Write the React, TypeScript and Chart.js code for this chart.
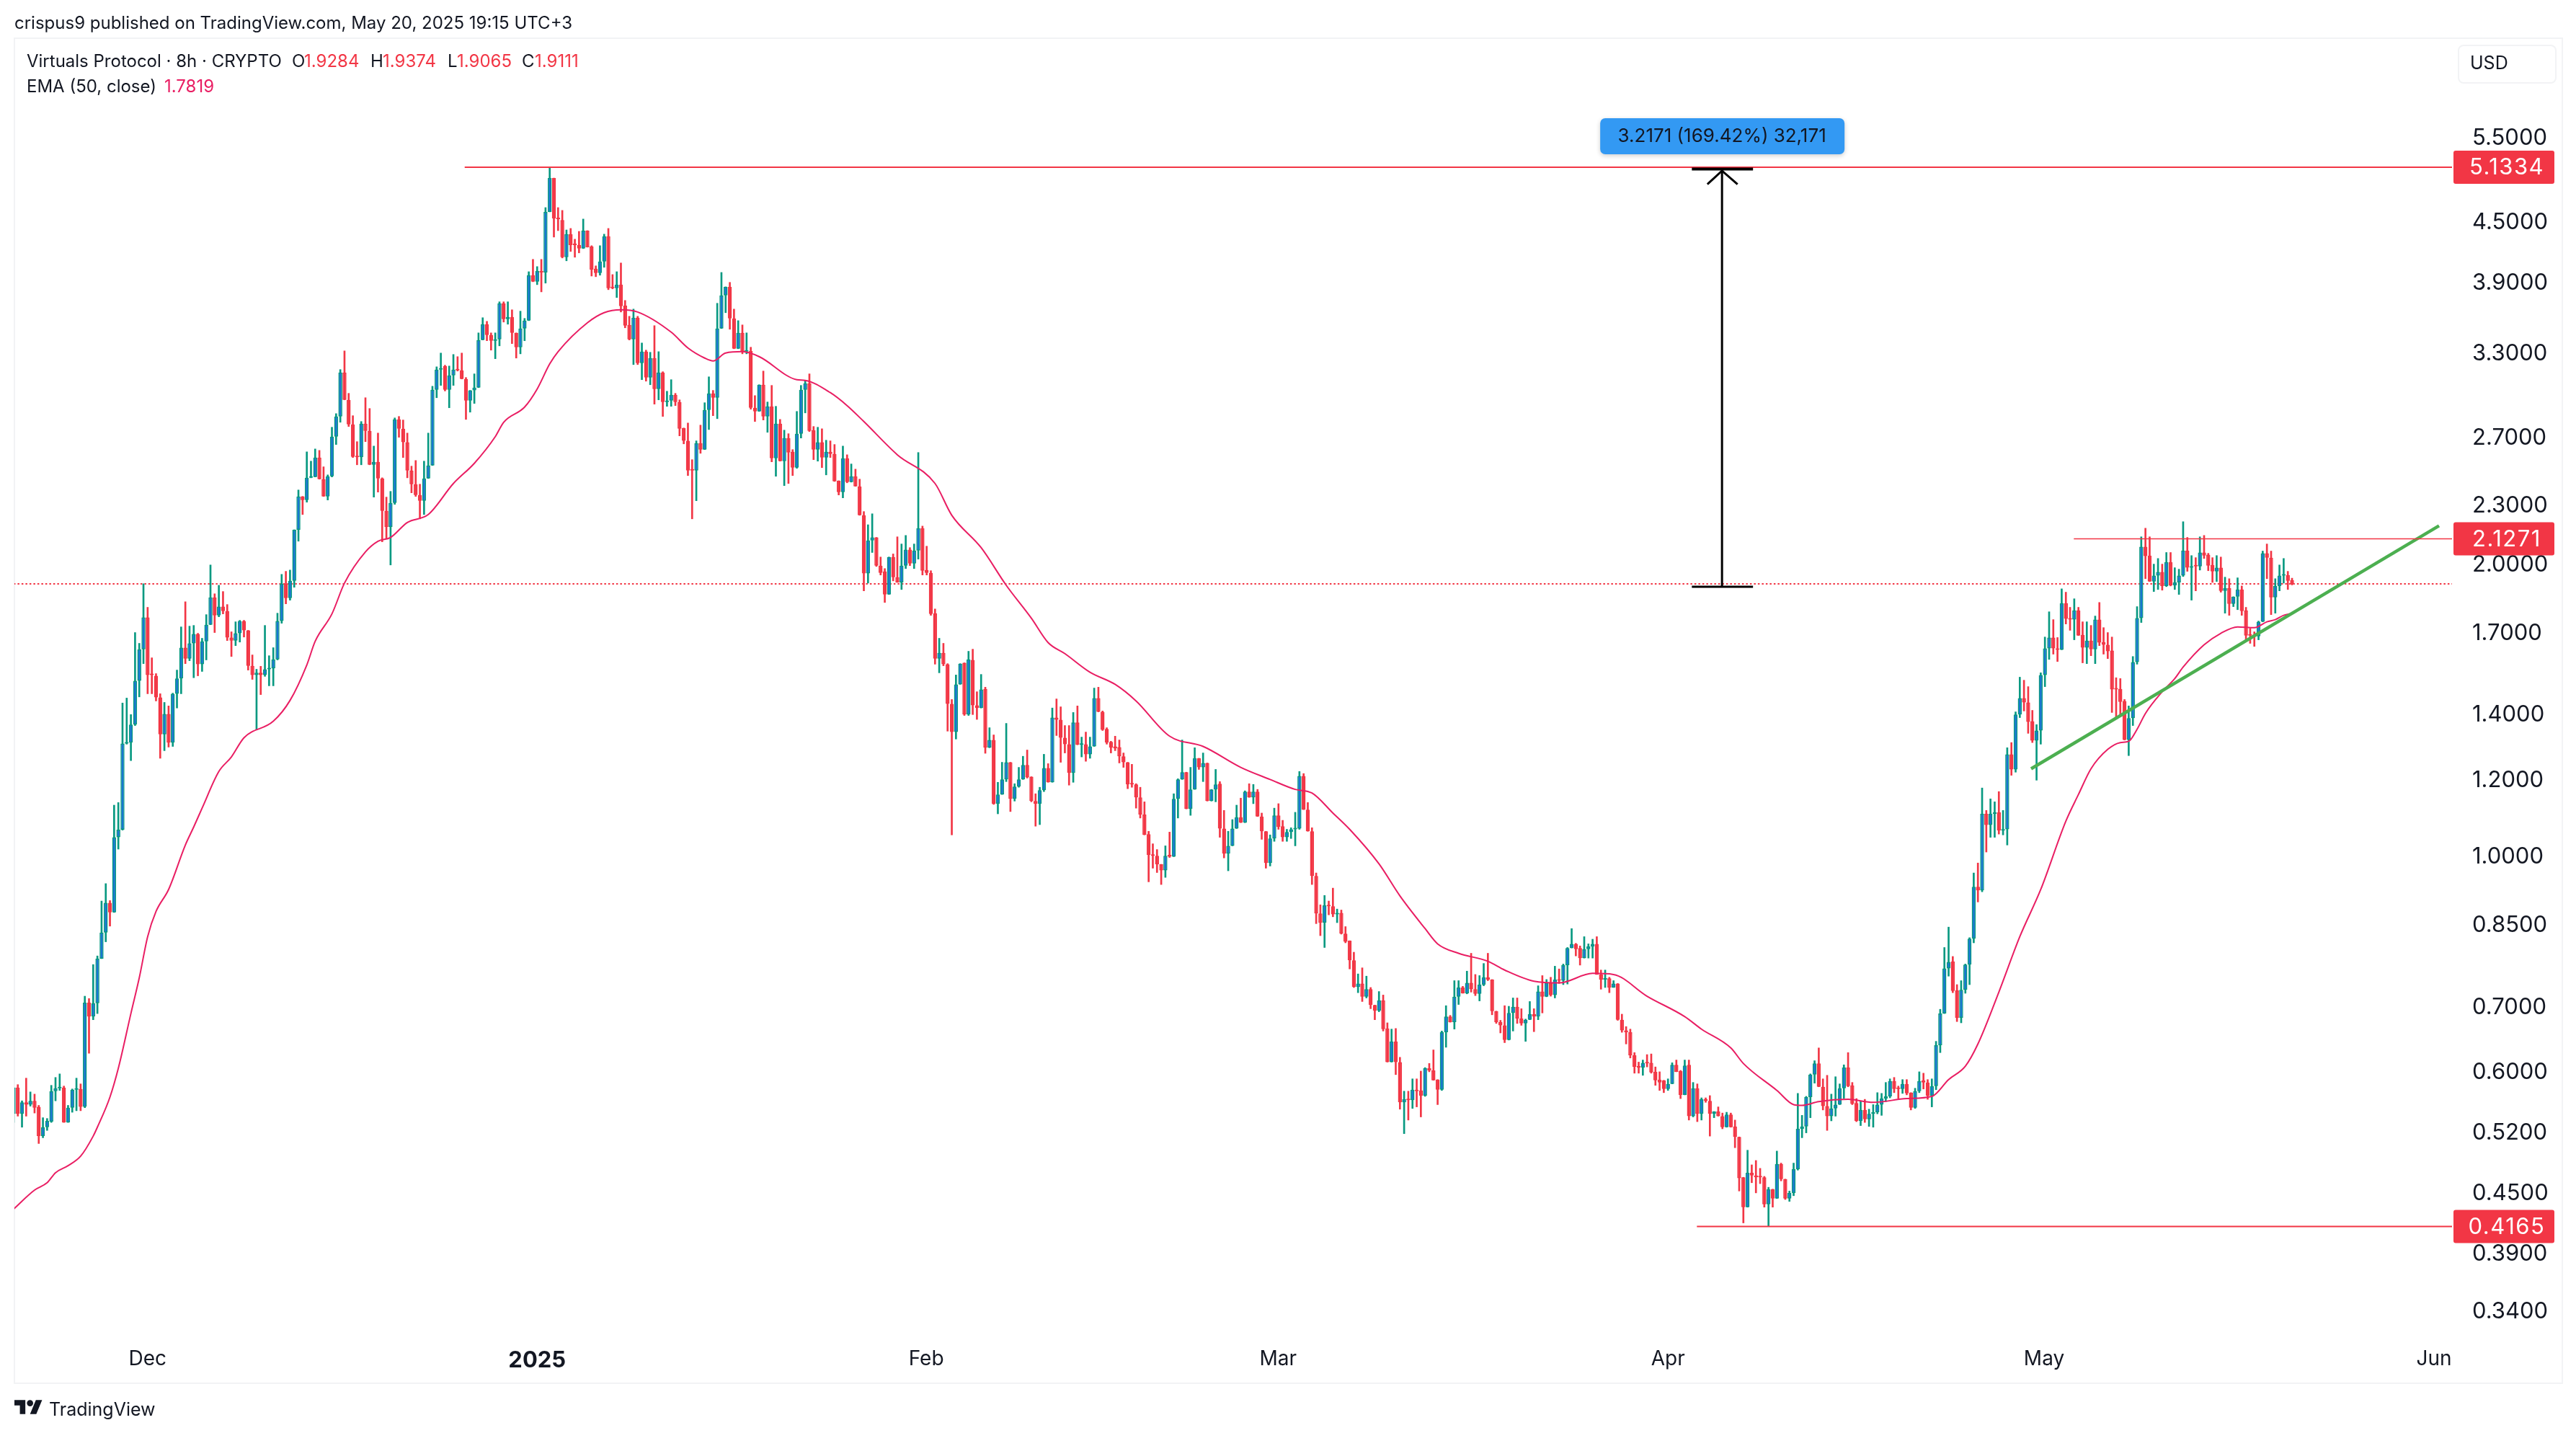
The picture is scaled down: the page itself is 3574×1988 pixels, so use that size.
import React, { useEffect, useRef } from 'react';
import { Chart, registerables } from 'chart.js';

Chart.register(...registerables);

// 8h candles, oldest first
const opens = [
  0.544, 0.579, 0.544, 0.559, 0.556, 0.561, 0.553, 0.516, 0.527, 0.534,
  0.574, 0.578, 0.579, 0.533, 0.552, 0.576, 0.577, 0.553, 0.708, 0.685,
  0.707, 0.786, 0.836, 0.897, 0.877, 1.048, 1.067, 1.309, 1.312, 1.369,
  1.519, 1.637, 1.765, 1.542, 1.537, 1.46, 1.338, 1.404, 1.312, 1.473,
  1.527, 1.643, 1.601, 1.66, 1.697, 1.58, 1.668, 1.735, 1.851, 1.774,
  1.811, 1.792, 1.683, 1.671, 1.7, 1.75, 1.712, 1.574, 1.54, 1.548,
  1.54, 1.561, 1.564, 1.598, 1.75, 1.912, 1.848, 1.925, 2.173, 2.352,
  2.332, 2.458, 2.463, 2.579, 2.45, 2.352, 2.467, 2.71, 2.843, 3.155,
  2.957, 2.79, 2.583, 2.581, 2.795, 2.747, 2.535, 2.553, 2.454, 2.273,
  2.188, 2.316, 2.823, 2.761, 2.674, 2.501, 2.421, 2.36, 2.328, 2.454,
  2.531, 3.029, 3.177, 3.204, 3.029, 3.134, 3.177, 3.171, 3.107, 2.952,
  3.024, 3.044, 3.408, 3.538, 3.448, 3.402, 3.414, 3.718, 3.581, 3.599,
  3.466, 3.35, 3.502, 3.568, 3.974, 3.913, 4.014, 4.0, 4.618, 5.003,
  4.547, 4.53, 4.147, 4.38, 4.276, 4.269, 4.233, 4.417, 4.254, 4.035,
  3.994, 4.105, 4.358, 3.86, 3.853, 3.886, 3.698, 3.532, 3.414, 3.593,
  3.226, 3.315, 3.118, 3.265, 3.034, 3.155, 2.942, 2.952, 2.992, 2.942,
  2.766, 2.683, 2.505, 2.501, 2.669, 2.628, 2.887, 3.003, 2.972, 3.502,
  3.788, 3.866, 3.587, 3.338, 3.466, 3.315, 3.321, 2.902, 2.877, 3.065,
  2.843, 2.912, 2.575, 2.795, 2.557, 2.701, 2.614, 2.518, 2.729, 3.029,
  3.075, 2.752, 2.628, 2.674, 2.579, 2.614, 2.601, 2.441, 2.376, 2.575,
  2.433, 2.467, 2.409, 2.249, 1.959, 2.119, 2.134, 1.996, 1.969, 1.864,
  2.037, 1.942, 1.918, 1.996, 2.073, 2.006, 2.069, 2.181, 1.975, 1.962,
  1.783, 1.601, 1.623, 1.58, 1.438, 1.345, 1.506, 1.585, 1.402, 1.596,
  1.433, 1.424, 1.49, 1.296, 1.32, 1.135, 1.16, 1.202, 1.252, 1.148,
  1.182, 1.202, 1.244, 1.21, 1.142, 1.135, 1.172, 1.235, 1.194, 1.392,
  1.385, 1.327, 1.307, 1.221, 1.376, 1.305, 1.307, 1.276, 1.3, 1.458,
  1.411, 1.355, 1.314, 1.3, 1.298, 1.27, 1.252, 1.19, 1.188, 1.152,
  1.106, 1.056, 1.005, 1.003, 0.983, 0.969, 1.005, 1.001, 1.148, 1.202,
  1.223, 1.121, 1.174, 1.264, 1.237, 1.25, 1.142, 1.174, 1.19, 1.07,
  1.008, 1.027, 1.07, 1.099, 1.085, 1.168, 1.152, 1.168, 1.101, 1.063,
  0.986, 1.045, 1.104, 1.076, 1.048, 1.061, 1.068, 1.07, 1.212, 1.119,
  1.063, 0.956, 0.875, 0.856, 0.892, 0.89, 0.873, 0.876, 0.834, 0.82,
  0.783, 0.735, 0.741, 0.718, 0.731, 0.704, 0.695, 0.712, 0.666, 0.615,
  0.646, 0.615, 0.559, 0.563, 0.562, 0.576, 0.575, 0.568, 0.606, 0.603,
  0.59, 0.576, 0.66, 0.685, 0.676, 0.718, 0.734, 0.724, 0.742, 0.731,
  0.723, 0.739, 0.752, 0.748, 0.694, 0.676, 0.671, 0.648, 0.691, 0.701,
  0.682, 0.674, 0.68, 0.689, 0.685, 0.727, 0.718, 0.742, 0.721, 0.748,
  0.746, 0.774, 0.806, 0.814, 0.806, 0.787, 0.804, 0.809, 0.814, 0.757,
  0.748, 0.75, 0.734, 0.741, 0.68, 0.663, 0.66, 0.625, 0.609, 0.607,
  0.615, 0.614, 0.601, 0.59, 0.589, 0.577, 0.584, 0.611, 0.602, 0.569,
  0.611, 0.541, 0.578, 0.544, 0.563, 0.561, 0.544, 0.547, 0.541, 0.527,
  0.543, 0.528, 0.515, 0.468, 0.436, 0.473, 0.47, 0.469, 0.468, 0.439,
  0.455, 0.445, 0.483, 0.466, 0.445, 0.451, 0.477, 0.525, 0.528, 0.566,
  0.597, 0.613, 0.58, 0.554, 0.541, 0.551, 0.556, 0.578, 0.607, 0.582,
  0.558, 0.535, 0.549, 0.537, 0.544, 0.546, 0.556, 0.564, 0.567, 0.588,
  0.578, 0.577, 0.584, 0.572, 0.552, 0.574, 0.589, 0.586, 0.568, 0.581,
  0.64, 0.69, 0.768, 0.781, 0.729, 0.683, 0.73, 0.775, 0.824, 0.932,
  0.924, 1.108, 1.079, 1.108, 1.112, 1.065, 1.068, 1.276, 1.231, 1.402,
  1.458, 1.443, 1.38, 1.318, 1.35, 1.54, 1.64, 1.683, 1.64, 1.635,
  1.826, 1.762, 1.756, 1.795, 1.694, 1.643, 1.671, 1.637, 1.756, 1.665,
  1.654, 1.632, 1.493, 1.49, 1.448, 1.32, 1.39, 1.588, 1.762, 2.087,
  2.044, 1.922, 1.949, 1.966, 1.902, 2.013, 1.905, 1.918, 1.949, 2.069,
  1.986, 1.996, 1.992, 2.059, 2.048, 1.999, 1.969, 1.986, 1.88, 1.892,
  1.823, 1.854, 1.886, 1.795, 1.694, 1.694, 1.688, 1.747, 2.055, 2.034,
  1.851, 1.902, 1.949, 1.952, 1.9284,
];

const highs = [
  0.579, 0.583, 0.561, 0.592, 0.573, 0.57, 0.555, 0.539, 0.538, 0.582,
  0.593, 0.598, 0.581, 0.555, 0.577, 0.592, 0.584, 0.719, 0.715, 0.775,
  0.791, 0.901, 0.939, 0.902, 1.131, 1.138, 1.441, 1.458, 1.402, 1.703,
  1.66, 1.912, 1.808, 1.604, 1.545, 1.473, 1.443, 1.431, 1.475, 1.558,
  1.726, 1.832, 1.729, 1.732, 1.7, 1.68, 1.777, 1.999, 1.867, 1.905,
  1.877, 1.82, 1.706, 1.747, 1.753, 1.753, 1.712, 1.615, 1.561, 1.572,
  1.732, 1.612, 1.643, 1.783, 1.955, 1.969, 1.975, 2.173, 2.388, 2.352,
  2.614, 2.557, 2.632, 2.623, 2.523, 2.475, 2.771, 2.862, 3.177, 3.321,
  3.003, 2.848, 2.678, 2.809, 2.972, 2.897, 2.65, 2.733, 2.458, 2.348,
  2.38, 2.833, 2.843, 2.819, 2.733, 2.527, 2.561, 2.421, 2.557, 2.733,
  3.054, 3.198, 3.304, 3.21, 3.204, 3.293, 3.276, 3.304, 3.118, 3.024,
  3.145, 3.466, 3.593, 3.562, 3.466, 3.466, 3.731, 3.731, 3.731, 3.661,
  3.466, 3.649, 3.587, 4.007, 4.126, 4.056, 4.126, 4.665, 5.1334, 5.003,
  4.665, 4.634, 4.424, 4.44, 4.328, 4.409, 4.54, 4.417, 4.262, 4.063,
  4.262, 4.38, 4.44, 3.98, 4.007, 4.091, 3.743, 3.605, 3.667, 3.605,
  3.384, 3.327, 3.31, 3.526, 3.315, 3.161, 3.018, 3.102, 3.003, 2.957,
  2.766, 2.799, 2.566, 2.683, 2.785, 2.937, 3.123, 3.024, 3.718, 4.0,
  3.866, 3.907, 3.667, 3.568, 3.532, 3.466, 3.35, 2.987, 3.065, 3.166,
  2.942, 3.06, 2.912, 2.823, 2.752, 2.729, 2.628, 2.877, 3.06, 3.097,
  3.145, 2.776, 2.771, 2.761, 2.687, 2.683, 2.66, 2.441, 2.65, 2.596,
  2.54, 2.509, 2.45, 2.269, 2.199, 2.257, 2.134, 2.037, 1.982, 2.037,
  2.052, 2.137, 2.101, 2.144, 2.083, 2.101, 2.61, 2.192, 2.09, 1.972,
  1.801, 1.68, 1.66, 1.582, 1.453, 1.54, 1.582, 1.585, 1.629, 1.637,
  1.48, 1.542, 1.496, 1.359, 1.336, 1.194, 1.252, 1.373, 1.252, 1.19,
  1.237, 1.27, 1.289, 1.21, 1.162, 1.18, 1.276, 1.248, 1.424, 1.455,
  1.428, 1.366, 1.366, 1.409, 1.431, 1.329, 1.345, 1.329, 1.493, 1.496,
  1.414, 1.359, 1.316, 1.332, 1.32, 1.28, 1.252, 1.246, 1.19, 1.18,
  1.14, 1.063, 1.032, 1.018, 0.983, 1.027, 1.061, 1.162, 1.204, 1.32,
  1.223, 1.237, 1.296, 1.264, 1.28, 1.25, 1.174, 1.231, 1.196, 1.117,
  1.063, 1.093, 1.131, 1.15, 1.17, 1.19, 1.188, 1.174, 1.11, 1.063,
  1.054, 1.123, 1.135, 1.091, 1.068, 1.072, 1.112, 1.225, 1.219, 1.138,
  1.072, 0.963, 0.893, 0.913, 0.901, 0.929, 0.884, 0.882, 0.848, 0.82,
  0.798, 0.758, 0.769, 0.754, 0.734, 0.704, 0.727, 0.721, 0.675, 0.665,
  0.666, 0.622, 0.574, 0.574, 0.591, 0.591, 0.602, 0.607, 0.613, 0.633,
  0.59, 0.662, 0.703, 0.687, 0.746, 0.746, 0.736, 0.763, 0.796, 0.757,
  0.755, 0.777, 0.796, 0.748, 0.694, 0.679, 0.703, 0.702, 0.716, 0.716,
  0.698, 0.681, 0.71, 0.698, 0.737, 0.755, 0.748, 0.752, 0.772, 0.767,
  0.776, 0.807, 0.844, 0.815, 0.81, 0.828, 0.814, 0.823, 0.828, 0.765,
  0.765, 0.752, 0.746, 0.741, 0.689, 0.669, 0.665, 0.629, 0.615, 0.618,
  0.626, 0.627, 0.608, 0.601, 0.589, 0.591, 0.614, 0.618, 0.603, 0.618,
  0.618, 0.586, 0.584, 0.565, 0.565, 0.568, 0.547, 0.553, 0.545, 0.546,
  0.545, 0.536, 0.515, 0.468, 0.499, 0.482, 0.487, 0.478, 0.469, 0.457,
  0.455, 0.498, 0.484, 0.466, 0.453, 0.484, 0.571, 0.542, 0.567, 0.598,
  0.617, 0.636, 0.591, 0.596, 0.57, 0.594, 0.584, 0.611, 0.629, 0.586,
  0.564, 0.56, 0.563, 0.55, 0.556, 0.572, 0.571, 0.586, 0.591, 0.593,
  0.581, 0.59, 0.59, 0.572, 0.578, 0.601, 0.599, 0.59, 0.591, 0.646,
  0.697, 0.807, 0.847, 0.79, 0.739, 0.746, 0.776, 0.826, 0.963, 0.986,
  1.178, 1.117, 1.148, 1.14, 1.168, 1.117, 1.296, 1.312, 1.411, 1.532,
  1.521, 1.498, 1.416, 1.369, 1.548, 1.685, 1.789, 1.756, 1.683, 1.889,
  1.874, 1.808, 1.845, 1.808, 1.747, 1.747, 1.732, 1.771, 1.829, 1.723,
  1.703, 1.685, 1.53, 1.527, 1.453, 1.431, 1.609, 1.811, 2.137, 2.181,
  2.137, 2.003, 2.03, 2.003, 2.059, 2.059, 1.986, 1.979, 2.215, 2.134,
  2.044, 2.034, 2.137, 2.144, 2.055, 2.034, 2.044, 2.037, 1.942, 1.935,
  1.854, 1.939, 1.902, 1.808, 1.72, 1.706, 1.75, 2.066, 2.101, 2.066,
  1.935, 1.999, 2.03, 1.969, 1.9374,
];

const lows = [
  0.533, 0.541, 0.527, 0.541, 0.554, 0.545, 0.507, 0.514, 0.523, 0.533,
  0.561, 0.575, 0.533, 0.533, 0.546, 0.548, 0.548, 0.552, 0.628, 0.68,
  0.69, 0.786, 0.818, 0.849, 0.877, 1.019, 1.066, 1.307, 1.257, 1.366,
  1.462, 1.582, 1.473, 1.473, 1.448, 1.264, 1.287, 1.298, 1.3, 1.424,
  1.473, 1.582, 1.593, 1.53, 1.537, 1.553, 1.596, 1.735, 1.703, 1.768,
  1.78, 1.671, 1.609, 1.651, 1.665, 1.685, 1.558, 1.524, 1.352, 1.47,
  1.535, 1.501, 1.501, 1.596, 1.741, 1.823, 1.839, 1.896, 2.115, 2.253,
  2.32, 2.458, 2.463, 2.45, 2.352, 2.332, 2.463, 2.66, 2.804, 2.957,
  2.776, 2.579, 2.535, 2.535, 2.678, 2.535, 2.348, 2.376, 2.112, 2.126,
  1.999, 2.308, 2.706, 2.579, 2.458, 2.372, 2.352, 2.23, 2.253, 2.454,
  2.531, 2.972, 3.06, 3.02, 2.902, 3.06, 3.166, 3.107, 2.823, 2.872,
  2.932, 3.044, 3.408, 3.402, 3.327, 3.26, 3.361, 3.556, 3.538, 3.379,
  3.265, 3.298, 3.402, 3.568, 3.913, 3.886, 3.82, 3.9, 4.618, 4.35,
  4.417, 4.14, 4.112, 4.204, 4.147, 4.19, 4.233, 4.247, 3.966, 3.96,
  3.974, 4.049, 3.84, 3.847, 3.769, 3.642, 3.508, 3.408, 3.215, 3.215,
  3.102, 3.091, 3.065, 2.927, 2.957, 2.843, 2.912, 2.912, 2.917, 2.715,
  2.664, 2.471, 2.23, 2.328, 2.605, 2.628, 2.756, 2.848, 2.828, 3.502,
  3.636, 3.496, 3.338, 3.338, 3.298, 3.298, 2.892, 2.809, 2.877, 2.819,
  2.738, 2.553, 2.467, 2.557, 2.413, 2.425, 2.471, 2.514, 2.701, 2.867,
  2.743, 2.566, 2.557, 2.518, 2.475, 2.579, 2.437, 2.36, 2.344, 2.429,
  2.433, 2.409, 2.249, 1.88, 1.915, 2.059, 1.992, 1.952, 1.829, 1.864,
  1.925, 1.918, 1.886, 1.982, 1.996, 1.982, 2.027, 1.952, 1.952, 1.774,
  1.58, 1.548, 1.574, 1.348, 1.054, 1.323, 1.506, 1.399, 1.399, 1.402,
  1.386, 1.424, 1.279, 1.296, 1.133, 1.108, 1.16, 1.196, 1.114, 1.142,
  1.18, 1.202, 1.206, 1.14, 1.076, 1.08, 1.168, 1.194, 1.194, 1.334,
  1.252, 1.28, 1.186, 1.194, 1.305, 1.268, 1.255, 1.264, 1.3, 1.411,
  1.35, 1.307, 1.28, 1.287, 1.25, 1.237, 1.176, 1.18, 1.123, 1.097,
  1.054, 0.943, 0.974, 0.964, 0.937, 0.953, 0.999, 1.001, 1.097, 1.202,
  1.121, 1.104, 1.174, 1.231, 1.196, 1.142, 1.142, 1.14, 1.048, 0.998,
  0.968, 1.027, 1.07, 1.085, 1.085, 1.152, 1.135, 1.101, 1.043, 0.974,
  0.979, 1.038, 1.068, 1.038, 1.038, 1.045, 1.027, 1.068, 1.119, 1.063,
  0.937, 0.854, 0.83, 0.807, 0.872, 0.868, 0.856, 0.833, 0.816, 0.767,
  0.734, 0.725, 0.71, 0.716, 0.698, 0.68, 0.693, 0.662, 0.615, 0.615,
  0.597, 0.55, 0.519, 0.536, 0.551, 0.553, 0.54, 0.567, 0.601, 0.589,
  0.556, 0.575, 0.637, 0.676, 0.665, 0.705, 0.724, 0.723, 0.726, 0.72,
  0.711, 0.737, 0.746, 0.688, 0.674, 0.659, 0.644, 0.648, 0.662, 0.674,
  0.671, 0.646, 0.68, 0.661, 0.68, 0.691, 0.718, 0.719, 0.716, 0.741,
  0.739, 0.74, 0.806, 0.791, 0.774, 0.787, 0.787, 0.787, 0.757, 0.731,
  0.734, 0.725, 0.734, 0.679, 0.66, 0.642, 0.621, 0.599, 0.599, 0.596,
  0.608, 0.599, 0.582, 0.575, 0.572, 0.575, 0.584, 0.601, 0.564, 0.569,
  0.536, 0.54, 0.534, 0.536, 0.559, 0.516, 0.539, 0.541, 0.525, 0.527,
  0.527, 0.502, 0.453, 0.42, 0.436, 0.462, 0.451, 0.461, 0.436, 0.4165,
  0.436, 0.445, 0.464, 0.444, 0.442, 0.448, 0.476, 0.514, 0.52, 0.539,
  0.585, 0.58, 0.549, 0.523, 0.535, 0.541, 0.556, 0.564, 0.58, 0.556,
  0.534, 0.529, 0.533, 0.528, 0.527, 0.544, 0.542, 0.56, 0.565, 0.572,
  0.564, 0.571, 0.569, 0.549, 0.551, 0.572, 0.577, 0.563, 0.553, 0.576,
  0.629, 0.69, 0.754, 0.725, 0.677, 0.675, 0.724, 0.739, 0.816, 0.899,
  0.921, 1.012, 1.048, 1.048, 1.056, 1.054, 1.029, 1.214, 1.223, 1.392,
  1.414, 1.341, 1.312, 1.2, 1.307, 1.498, 1.598, 1.618, 1.59, 1.635,
  1.738, 1.712, 1.674, 1.691, 1.585, 1.582, 1.612, 1.582, 1.651, 1.618,
  1.601, 1.409, 1.389, 1.394, 1.32, 1.272, 1.366, 1.58, 1.744, 1.935,
  1.922, 1.877, 1.886, 1.883, 1.899, 1.902, 1.886, 1.864, 1.945, 1.969,
  1.839, 1.88, 1.975, 2.03, 1.972, 1.918, 1.922, 1.874, 1.783, 1.774,
  1.811, 1.798, 1.774, 1.674, 1.66, 1.648, 1.674, 1.747, 1.935, 1.777,
  1.783, 1.88, 1.915, 1.886, 1.9065,
];

const closes = [
  0.579, 0.544, 0.559, 0.556, 0.561, 0.552, 0.516, 0.527, 0.535, 0.574,
  0.578, 0.58, 0.533, 0.552, 0.576, 0.577, 0.553, 0.708, 0.685, 0.707,
  0.786, 0.836, 0.897, 0.877, 1.048, 1.067, 1.309, 1.312, 1.369, 1.519,
  1.637, 1.765, 1.54, 1.54, 1.46, 1.338, 1.404, 1.312, 1.473, 1.527,
  1.643, 1.601, 1.66, 1.697, 1.58, 1.668, 1.735, 1.851, 1.774, 1.811,
  1.792, 1.683, 1.671, 1.7, 1.75, 1.712, 1.574, 1.54, 1.548, 1.54,
  1.561, 1.564, 1.598, 1.75, 1.912, 1.848, 1.925, 2.173, 2.352, 2.332,
  2.458, 2.463, 2.579, 2.45, 2.352, 2.467, 2.71, 2.843, 3.155, 2.957,
  2.79, 2.583, 2.581, 2.795, 2.747, 2.535, 2.553, 2.454, 2.273, 2.188,
  2.316, 2.823, 2.761, 2.674, 2.501, 2.421, 2.36, 2.328, 2.454, 2.531,
  3.029, 3.177, 3.188, 3.029, 3.134, 3.177, 3.171, 3.107, 2.952, 3.024,
  3.044, 3.408, 3.538, 3.448, 3.402, 3.414, 3.718, 3.581, 3.599, 3.466,
  3.35, 3.502, 3.568, 3.974, 3.913, 4.014, 4.0, 4.618, 5.003, 4.547,
  4.54, 4.147, 4.38, 4.269, 4.269, 4.233, 4.417, 4.247, 4.028, 3.994,
  4.105, 4.358, 3.853, 3.853, 3.886, 3.692, 3.526, 3.414, 3.593, 3.226,
  3.315, 3.118, 3.265, 3.034, 3.155, 2.942, 2.952, 2.992, 2.942, 2.761,
  2.683, 2.501, 2.501, 2.669, 2.628, 2.887, 3.003, 2.972, 3.502, 3.788,
  3.866, 3.587, 3.338, 3.466, 3.315, 3.321, 2.902, 2.877, 3.065, 2.843,
  2.912, 2.575, 2.795, 2.557, 2.701, 2.61, 2.518, 2.729, 3.029, 3.075,
  2.747, 2.628, 2.674, 2.579, 2.614, 2.601, 2.437, 2.376, 2.575, 2.433,
  2.467, 2.409, 2.249, 1.959, 2.119, 2.134, 1.996, 1.962, 1.864, 2.037,
  1.942, 1.918, 1.996, 2.073, 2.006, 2.069, 2.181, 1.972, 1.962, 1.78,
  1.601, 1.623, 1.58, 1.438, 1.345, 1.506, 1.582, 1.402, 1.598, 1.433,
  1.424, 1.488, 1.296, 1.32, 1.135, 1.16, 1.202, 1.252, 1.148, 1.182,
  1.202, 1.244, 1.208, 1.142, 1.135, 1.172, 1.235, 1.194, 1.392, 1.385,
  1.327, 1.307, 1.221, 1.376, 1.305, 1.309, 1.276, 1.3, 1.458, 1.411,
  1.352, 1.312, 1.296, 1.294, 1.27, 1.252, 1.188, 1.188, 1.152, 1.106,
  1.054, 1.005, 1.003, 0.983, 0.969, 1.003, 1.001, 1.148, 1.202, 1.223,
  1.121, 1.174, 1.264, 1.237, 1.25, 1.142, 1.174, 1.188, 1.07, 1.008,
  1.027, 1.07, 1.099, 1.085, 1.168, 1.152, 1.168, 1.101, 1.063, 0.986,
  1.045, 1.104, 1.074, 1.048, 1.061, 1.068, 1.07, 1.212, 1.119, 1.063,
  0.956, 0.875, 0.856, 0.892, 0.89, 0.873, 0.876, 0.834, 0.818, 0.783,
  0.735, 0.741, 0.718, 0.731, 0.704, 0.695, 0.712, 0.665, 0.615, 0.646,
  0.615, 0.559, 0.563, 0.562, 0.576, 0.574, 0.568, 0.606, 0.603, 0.589,
  0.576, 0.66, 0.685, 0.676, 0.718, 0.734, 0.724, 0.742, 0.731, 0.723,
  0.739, 0.752, 0.748, 0.694, 0.676, 0.671, 0.648, 0.691, 0.701, 0.682,
  0.674, 0.68, 0.689, 0.685, 0.727, 0.718, 0.742, 0.721, 0.748, 0.746,
  0.774, 0.806, 0.814, 0.804, 0.787, 0.804, 0.809, 0.814, 0.757, 0.748,
  0.75, 0.734, 0.741, 0.68, 0.663, 0.66, 0.625, 0.608, 0.607, 0.614,
  0.613, 0.6, 0.589, 0.586, 0.577, 0.584, 0.611, 0.601, 0.569, 0.61,
  0.541, 0.578, 0.544, 0.563, 0.561, 0.544, 0.547, 0.541, 0.527, 0.543,
  0.527, 0.515, 0.467, 0.436, 0.473, 0.47, 0.468, 0.468, 0.439, 0.455,
  0.445, 0.483, 0.466, 0.445, 0.451, 0.477, 0.525, 0.528, 0.566, 0.597,
  0.613, 0.58, 0.554, 0.541, 0.551, 0.556, 0.578, 0.607, 0.581, 0.557,
  0.535, 0.549, 0.537, 0.544, 0.546, 0.556, 0.564, 0.567, 0.588, 0.577,
  0.577, 0.584, 0.571, 0.552, 0.574, 0.588, 0.586, 0.568, 0.581, 0.64,
  0.69, 0.768, 0.78, 0.728, 0.683, 0.73, 0.775, 0.824, 0.932, 0.924,
  1.108, 1.079, 1.108, 1.112, 1.065, 1.068, 1.276, 1.231, 1.402, 1.458,
  1.443, 1.378, 1.318, 1.35, 1.54, 1.64, 1.683, 1.64, 1.635, 1.826,
  1.759, 1.756, 1.795, 1.691, 1.643, 1.671, 1.637, 1.756, 1.663, 1.654,
  1.629, 1.488, 1.488, 1.445, 1.32, 1.39, 1.588, 1.762, 2.087, 2.041,
  1.922, 1.949, 1.966, 1.902, 2.013, 1.905, 1.918, 1.949, 2.069, 1.986,
  1.992, 1.992, 2.059, 2.044, 1.996, 1.969, 1.986, 1.88, 1.892, 1.823,
  1.854, 1.886, 1.792, 1.691, 1.691, 1.688, 1.747, 2.055, 2.034, 1.851,
  1.902, 1.949, 1.955, 1.925, 1.9111,
];

// EMA(50), read at the candle numbers below
const emaBars = [
  0, 5, 8, 10, 13, 16, 19, 20, 23, 25, 28, 30, 32, 34, 37, 41, 43, 45, 49, 52, 55, 62, 66, 70, 72,
  76, 79, 84, 87, 90, 94, 99, 105, 110, 115, 117, 122, 125, 128, 130, 137, 141, 145, 149, 157, 161,
  165, 167, 170, 174, 178, 187, 189, 195, 199, 203, 211, 220, 224, 231, 237, 243, 247, 251, 257,
  263, 268, 276, 284, 293, 300, 306, 310, 315, 319, 326, 331, 337, 340, 345, 352, 356, 363, 369,
  377, 382, 390, 399, 403, 410, 413, 421, 425, 427, 431, 438, 444, 452, 458, 462, 466, 469, 474,
  479, 484, 490, 493, 496, 500, 503, 505, 507, 509, 513, 516, 518, 523, 527, 531, 535, 538, 540,
  542, 544,
];
const emaValues = [
  0.434, 0.454, 0.462, 0.473, 0.481, 0.492, 0.516, 0.527, 0.566, 0.606, 0.69, 0.751, 0.828, 0.879, 0.926, 1.029, 1.074, 1.123, 1.225, 1.268, 1.327, 1.38, 1.45, 1.577, 1.668,
  1.78, 1.915, 2.062, 2.115, 2.134, 2.211, 2.253, 2.425, 2.544, 2.71, 2.804, 2.907, 3.034, 3.22, 3.315, 3.55, 3.636, 3.661, 3.642, 3.472, 3.344,
  3.265, 3.243, 3.304, 3.315, 3.276, 3.102, 3.097, 3.008, 2.917, 2.809, 2.596, 2.425, 2.249, 2.083, 1.905, 1.762, 1.663, 1.62, 1.55,
  1.506, 1.448, 1.332, 1.3, 1.237, 1.202, 1.174, 1.164, 1.11, 1.068, 0.984, 0.912, 0.844, 0.814, 0.796, 0.781, 0.765, 0.745, 0.742,
  0.759, 0.757, 0.719, 0.685, 0.665, 0.636, 0.613, 0.575, 0.556, 0.555, 0.56, 0.563, 0.559, 0.564, 0.567, 0.59, 0.609, 0.642, 0.726,
  0.828, 0.926, 1.089, 1.16, 1.233, 1.291, 1.312, 1.316, 1.354, 1.406, 1.48, 1.527, 1.569, 1.654, 1.7, 1.726, 1.723, 1.747, 1.756,
  1.774, 1.7819,
];

const priceTicks = [5.5, 4.5, 3.9, 3.3, 2.7, 2.3, 2.0, 1.7, 1.4, 1.2, 1.0, 0.85, 0.7, 0.6, 0.52, 0.45, 0.39, 0.34];
const monthLabels = ['Dec', '2025', 'Feb', 'Mar', 'Apr', 'May', 'Jun'];
const monthBars = [32, 125, 217.9, 301.9, 395, 484.8, 577.9];
const levelTags = [5.1334, 2.1271, 0.4165];
const lastPrice = 1.9111;

const FONT = 'Inter, Roboto, sans-serif';
const INK = '#131722';
const RED = '#F23645';
const GREEN = '#089981';
const BLUE = '#1976D2';
const PINK = '#E91E63';

const flatLine = (from: number, to: number, price: number) => [
  { x: from, y: price },
  { x: to, y: price },
];

// price tags on the axis and the blue label of the measure tool
const overlayPlugin = {
  id: 'overlay',
  afterDatasetsDraw(chart: any) {
    const { ctx, chartArea, scales } = chart;
    ctx.save();
    levelTags.forEach((price) => {
      const y = scales.y.getPixelForValue(price);
      ctx.fillStyle = RED;
      ctx.beginPath();
      ctx.roundRect(chartArea.right + 2, y - 23, 140, 46, 3);
      ctx.fill();
      ctx.fillStyle = '#fff';
      ctx.font = `31px ${FONT}`;
      ctx.letterSpacing = '1.5px';
      ctx.textAlign = 'center';
      ctx.textBaseline = 'middle';
      ctx.fillText(price.toFixed(4), chartArea.right + 76, y + 1);
      ctx.letterSpacing = '0px';
    });
    const cx = scales.x.getPixelForValue(407.9);
    const top = scales.y.getPixelForValue(5.1334);
    ctx.shadowColor = 'rgba(0,0,0,0.2)';
    ctx.shadowBlur = 6;
    ctx.shadowOffsetY = 2;
    ctx.fillStyle = '#3399F3';
    ctx.beginPath();
    ctx.roundRect(cx - 169, top - 68, 339, 50, 7);
    ctx.fill();
    ctx.shadowColor = 'transparent';
    ctx.fillStyle = INK;
    ctx.font = `26px ${FONT}`;
    ctx.textAlign = 'center';
    ctx.textBaseline = 'middle';
    ctx.fillText('3.2171 (169.42%) 32,171', cx, top - 43);
    ctx.restore();
  },
};

function Label({ left, top, color = INK, size = 24, children }: any) {
  return (
    <span
      style={{
        position: 'absolute',
        left,
        top,
        color,
        fontSize: size,
        lineHeight: `${size + 4}px`,
        fontFamily: FONT,
        whiteSpace: 'nowrap',
      }}
    >
      {children}
    </span>
  );
}

export default function App() {
  const canvasRef = useRef<HTMLCanvasElement>(null);

  useEffect(() => {
    document.body.style.margin = '0';
    if (!canvasRef.current) return;

    const upColor = closes.map((c, i) => (c >= opens[i] ? GREEN : RED));
    const bodyColor = closes.map((c, i) => (c >= opens[i] ? BLUE : RED));
    const measureLine = { type: 'line', borderColor: '#000', borderWidth: 3, pointRadius: 0, tension: 0, order: 1 };
    const levelLine = { type: 'line', borderColor: RED, pointRadius: 0, tension: 0, order: 2 };

    const chart = new Chart(canvasRef.current, {
      type: 'bar',
      data: {
        datasets: [
          {
            type: 'line',
            data: flatLine(0, 583, lastPrice),
            borderColor: RED,
            borderWidth: 2,
            borderDash: [2.5, 3],
            pointRadius: 0,
            order: 7,
          },
          {
            data: closes.map((_, i) => ({ x: i, y: [lows[i], highs[i]] })),
            backgroundColor: upColor,
            barThickness: 2,
            grouped: false,
            order: 6,
          },
          {
            data: closes.map((c, i) => ({ x: i, y: [opens[i], c] })),
            backgroundColor: bodyColor,
            borderColor: upColor,
            borderWidth: 1.5,
            borderSkipped: false,
            barThickness: 5.5,
            minBarLength: 2,
            inflateAmount: 0,
            grouped: false,
            order: 5,
          },
          {
            type: 'line',
            data: emaBars.map((b, i) => ({ x: b, y: emaValues[i] })),
            borderColor: PINK,
            borderWidth: 2,
            pointRadius: 0,
            cubicInterpolationMode: 'monotone',
            order: 4,
          },
          { ...levelLine, data: flatLine(107.7, 583, 5.1334), borderWidth: 2 },
          { ...levelLine, data: flatLine(491.9, 583, 2.1271), borderWidth: 1.5 },
          { ...levelLine, data: flatLine(401.9, 583, 0.4165), borderWidth: 2 },
          {
            type: 'line',
            data: [
              { x: 481.7, y: 1.233 },
              { x: 579.1, y: 2.194 },
            ],
            borderColor: '#4CAF50',
            borderWidth: 4.5,
            pointRadius: 0,
            tension: 0,
            order: 3,
          },
          { ...measureLine, data: [{ x: 407.9, y: 5.1 }, { x: 407.9, y: 1.898 }] },
          { ...measureLine, data: flatLine(400.7, 415.3, 5.112), borderWidth: 4 },
          { ...measureLine, data: flatLine(400.7, 415.3, 1.898) },
          {
            ...measureLine,
            data: [
              { x: 404.4, y: 4.93 },
              { x: 407.9, y: 5.09 },
              { x: 411.6, y: 4.93 },
            ],
          },
        ],
      },
      options: {
        responsive: false,
        animation: false,
        devicePixelRatio: 1,
        layout: { padding: { left: 20, top: 54, right: 0, bottom: 71 } },
        plugins: { legend: { display: false }, tooltip: { enabled: false } },
        scales: {
          x: {
            type: 'linear',
            bounds: 'data',
            offset: false,
            min: 0.19,
            max: 582.2,
            grid: { display: false },
            border: { display: false },
            afterBuildTicks: (axis: any) => {
              axis.ticks = monthBars.map((value) => ({ value }));
            },
            afterFit: (axis: any) => {
              axis.height = 67;
            },
            ticks: {
              autoSkip: false,
              maxRotation: 0,
              minRotation: 0,
              padding: 11,
              color: INK,
              font: (ctx: any) => {
                const isYear = ctx.tick && ctx.tick.value === monthBars[1];
                return { family: FONT, size: isYear ? 31 : 28, weight: isYear ? 'bold' : 'normal' };
              },
              callback: (value: any) => monthLabels[monthBars.indexOf(value)],
            },
          },
          y: {
            type: 'logarithmic',
            position: 'right',
            bounds: 'data',
            min: 0.3231,
            max: 6.959,
            grid: { display: false },
            border: { display: false },
            afterBuildTicks: (axis: any) => {
              axis.ticks = priceTicks.map((value) => ({ value }));
            },
            afterFit: (axis: any) => {
              axis.width = 172;
            },
            ticks: {
              autoSkip: false,
              padding: 20,
              color: INK,
              font: { family: FONT, size: 31 },
              callback: (value: any) => Number(value).toFixed(4),
            },
          },
        },
      },
      plugins: [overlayPlugin],
    } as any);

    return () => chart.destroy();
  }, []);

  return (
    <div style={{ position: 'absolute', left: 0, top: 0, width: 3574, height: 1988, background: '#fff', overflow: 'hidden' }}>
      <div style={{ position: 'absolute', left: 19, top: 52, width: 3533, height: 1864, border: '2px solid #F2F3F5' }} />
      <canvas ref={canvasRef} width={3574} height={1988} style={{ position: 'absolute', left: 0, top: 0 }} />

      <Label left={20} top={18}>crispus9 published on TradingView.com, May 20, 2025 19:15 UTC+3</Label>
      <Label left={37} top={71}>Virtuals Protocol · 8h · CRYPTO</Label>
      <Label left={405} top={71}>O</Label>
      <Label left={422} top={71} color={RED}>1.9284</Label>
      <Label left={514} top={71}>H</Label>
      <Label left={531} top={71} color={RED}>1.9374</Label>
      <Label left={621} top={71}>L</Label>
      <Label left={634} top={71} color={RED}>1.9065</Label>
      <Label left={724} top={71}>C</Label>
      <Label left={742} top={71} color={RED}>1.9111</Label>
      <Label left={37} top={106}>EMA (50, close)</Label>
      <Label left={228} top={106} color={PINK}>1.7819</Label>

      <div style={{ position: 'absolute', left: 3410, top: 62, width: 133, height: 50, border: '2px solid #F2F3F5', borderRadius: 8 }} />
      <Label left={3427} top={73} size={25}>USD</Label>

      <svg style={{ position: 'absolute', left: 20, top: 1942 }} width={39} height={20} viewBox="0 4 36 18">
        <path d="M14 22H7V11H0V4h14v18zM28 22h-8l7.5-18h8L28 22z" fill={INK} />
        <circle cx={20} cy={8} r={4} fill={INK} />
      </svg>
      <Label left={68} top={1941} size={25}>TradingView</Label>
    </div>
  );
}
